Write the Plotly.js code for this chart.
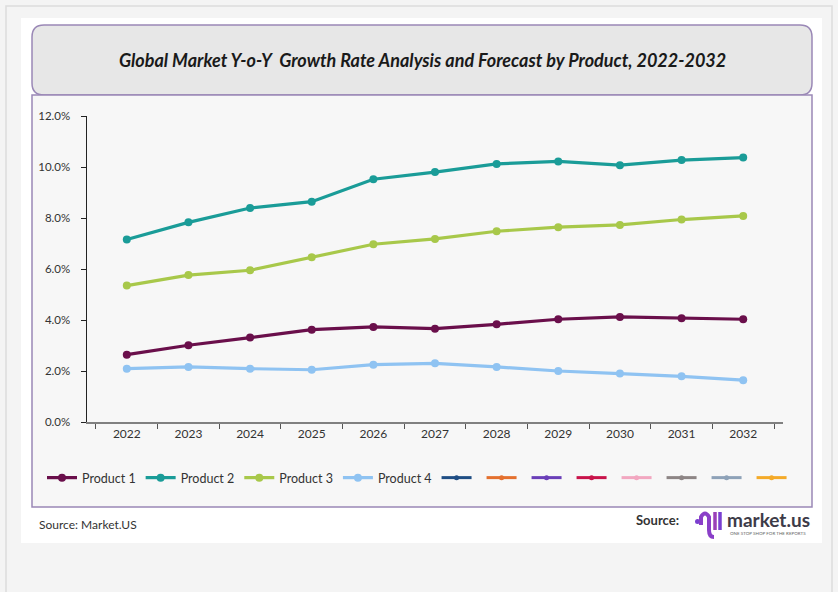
<!DOCTYPE html>
<html>
<head>
<meta charset="utf-8">
<script src="https://cdn.plot.ly/plotly-3.0.1.min.js"></script>
<style>html,body{margin:0;padding:0;background:#f4f4f4;}#chart{width:838px;height:592px;}</style>
</head>
<body>
<div id="chart"></div>
<script>
// ---- data ----
const years = ["2022","2023","2024","2025","2026","2027","2028","2029","2030","2031","2032"];
const product1 = [2.64, 3.01, 3.31, 3.62, 3.73, 3.66, 3.83, 4.03, 4.12, 4.07, 4.03];
const product2 = [7.16, 7.83, 8.39, 8.64, 9.52, 9.80, 10.12, 10.22, 10.07, 10.27, 10.37];
const product3 = [5.35, 5.76, 5.95, 6.46, 6.97, 7.18, 7.48, 7.64, 7.73, 7.94, 8.08];
const product4 = [2.09, 2.16, 2.09, 2.05, 2.25, 2.30, 2.16, 2.00, 1.90, 1.79, 1.64];
const seriesNames = ["Product 1", "Product 2", "Product 3", "Product 4"];
const yTicks = [0, 2, 4, 6, 8, 10, 12];
const titleText = "Global Market Y-o-Y  Growth Rate Analysis and Forecast by Product, 2022-2032";

// ---- styling ----
const colors = ["#6a0f4b", "#1a9c98", "#a8c84a", "#8fc3f2"];
const extraColors = ["#1f4e84", "#e4702e", "#6a3fb8", "#c8134a", "#f2a7c0", "#8d8585", "#8ea2b8", "#f4aa28"];

const W = 838, H = 592;
const L = 87, R = 783, T = 116, B = 422;
const px = x => (x - L) / (R - L);
const py = y => (B - y) / (B - T);

const traces = [product1, product2, product3, product4].map((vals, i) => ({
  type: "scatter", mode: "lines+markers", x: years, y: vals, name: seriesNames[i],
  line: {color: colors[i], width: 3.2}, marker: {color: colors[i], size: 8}
}));
extraColors.forEach(c => traces.push({
  type: "scatter", mode: "lines+markers", x: [null], y: [null], name: "",
  line: {color: c, width: 3}, marker: {color: c, size: 5}, hoverinfo: "skip"
}));

function rrect(x0, y0, x1, y1, r) {
  const a = px(x0), b = px(x1), c = py(y0), d = py(y1);
  const rx = r / (R - L), ry = r / (B - T);
  return `M ${a + rx},${c} L ${b - rx},${c} Q ${b},${c} ${b},${c - ry} L ${b},${d + ry} Q ${b},${d} ${b - rx},${d} L ${a + rx},${d} Q ${a},${d} ${a},${d + ry} L ${a},${c - ry} Q ${a},${c} ${a + rx},${c} Z`;
}
function rect(x0, y0, x1, y1, fill, line, lw) {
  return {type: "rect", xref: "paper", yref: "paper", layer: "below",
    x0: px(x0), x1: px(x1), y0: py(y1), y1: py(y0),
    fillcolor: fill, line: {color: line, width: lw}};
}

const purple = "#9a88b6";
const shapes = [
  rect(6, 6, 832, 600, "#f4f4f4", "#dcdcdc", 1.5),
  rect(21, 18, 822, 543, "#ffffff", "rgba(0,0,0,0)", 0),
  {type: "path", xref: "paper", yref: "paper", layer: "below", path: rrect(32, 25, 812, 95, 12),
    fillcolor: "#e7e7e7", line: {color: purple, width: 1.5}},
  rect(32, 95, 812, 507, "#f7f7f7", purple, 1.5),
  // logo icon
  {type: "circle", xref: "paper", yref: "paper", x0: px(695), x1: px(700), y0: py(524), y1: py(519), fillcolor: "#7a3fd0", line: {width: 0}},
  {type: "path", xref: "paper", yref: "paper",
    path: `M ${px(701)},${py(525)} L ${px(701)},${py(517)} Q ${px(705)},${py(510)} ${px(709)},${py(517)} L ${px(709)},${py(530)} Q ${px(709)},${py(537)} ${px(714)},${py(537)}`,
    line: {color: "#8a3fc8", width: 4}},
  {type: "line", xref: "paper", yref: "paper", x0: px(715), x1: px(715), y0: py(512), y1: py(530), line: {color: "#9a3fb8", width: 3.5}},
  {type: "line", xref: "paper", yref: "paper", x0: px(720), x1: px(720), y0: py(512), y1: py(530), line: {color: "#7a3fd0", width: 3.5}}
];

const annotations = [
  {xref: "paper", yref: "paper", x: px(422), y: py(60), xanchor: "center", yanchor: "middle", showarrow: false,
    text: "<b><i>" + titleText + "</i></b>", font: {family: "Lato, 'Open Sans', sans-serif", size: 18, color: "#1a1a1a"}},
  {xref: "paper", yref: "paper", x: px(37), y: py(524), xanchor: "left", yanchor: "middle", showarrow: false,
    text: "Source: Market.US", font: {family: "Lato, sans-serif", size: 12, color: "#333"}},
  {xref: "paper", yref: "paper", x: px(681), y: py(520), xanchor: "right", yanchor: "middle", showarrow: false,
    text: "<b>Source:</b>", font: {family: "Lato, sans-serif", size: 13, color: "#333"}},
  {xref: "paper", yref: "paper", x: px(725), y: py(519), xanchor: "left", yanchor: "middle", showarrow: false,
    text: "<b>market.us</b>", font: {family: "Lato, 'Open Sans', sans-serif", size: 19, color: "#3d3b48"}},
  {xref: "paper", yref: "paper", x: px(728), y: py(533), xanchor: "left", yanchor: "middle", showarrow: false,
    text: "ONE STOP SHOP FOR THE REPORTS", font: {family: "Lato, sans-serif", size: 4.5, color: "#666"}}
];

const layout = {
  width: W, height: H,
  margin: {l: L, r: W - R, t: T, b: H - B, pad: 0},
  paper_bgcolor: "#f4f4f4", plot_bgcolor: "rgba(0,0,0,0)",
  showlegend: true,
  legend: {orientation: "h", x: px(42), xanchor: "left", y: py(478), yanchor: "middle",
    bgcolor: "rgba(0,0,0,0)", font: {family: "Lato, sans-serif", size: 12.5, color: "#333"},
    itemwidth: 30, tracegroupgap: 0},
  xaxis: {type: "category", showgrid: false, zeroline: false, showline: true, linecolor: "#808080", linewidth: 1.5,
    ticks: "outside", tickson: "boundaries", ticklen: 5, tickcolor: "#555",
    tickfont: {family: "Lato, sans-serif", size: 12, color: "#333"}, fixedrange: true},
  yaxis: {range: [0, 12], tickvals: yTicks, ticktext: yTicks.map(v => v.toFixed(1) + "%"),
    showgrid: false, zeroline: false, showline: true, linecolor: "#222", linewidth: 1.5,
    ticks: "outside", ticklen: 5, tickcolor: "#222", ticklabelstandoff: 8,
    tickfont: {family: "Lato, sans-serif", size: 11.5, color: "#333"}, fixedrange: true},
  shapes: shapes,
  annotations: annotations
};

Plotly.newPlot("chart", traces, layout, {displayModeBar: false, staticPlot: true});
</script>
</body>
</html>
